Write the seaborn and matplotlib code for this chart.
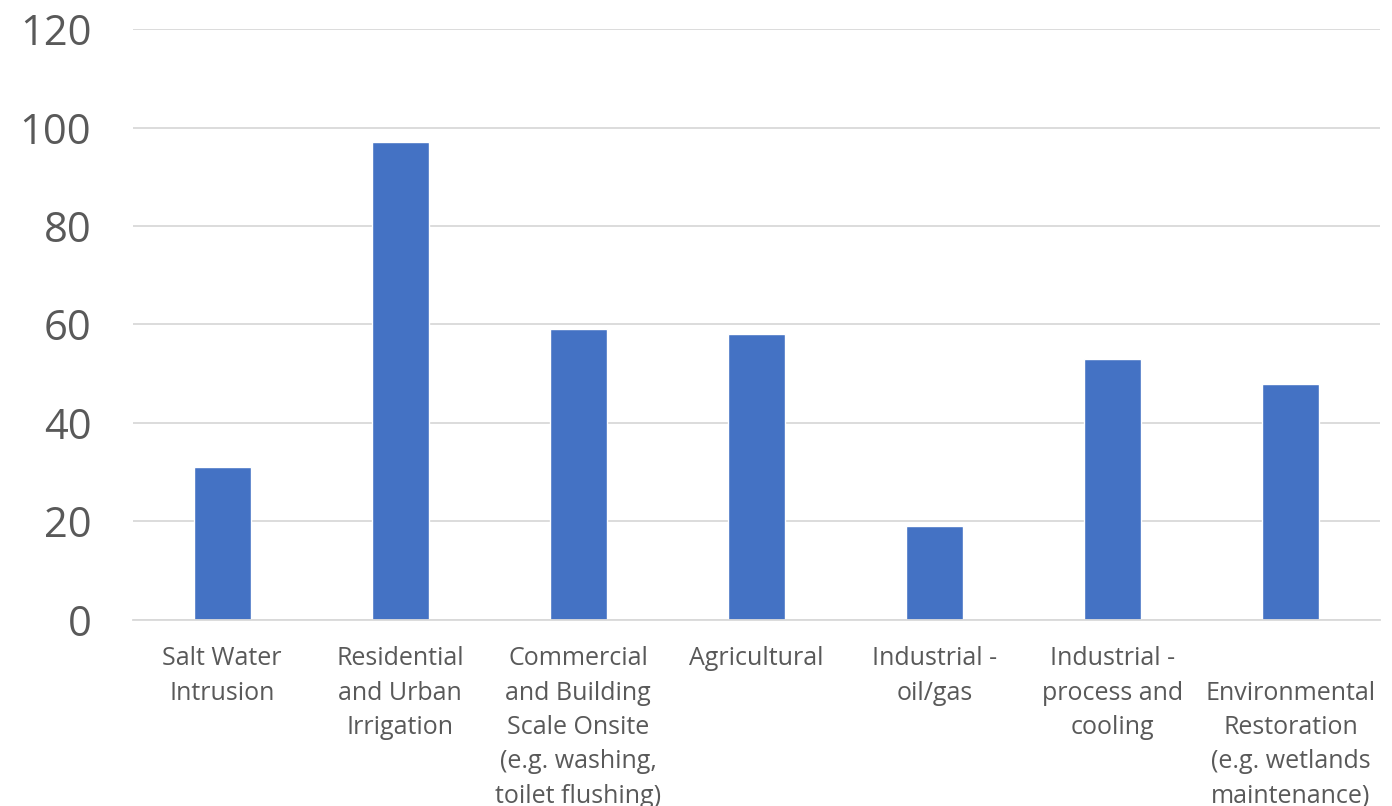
import matplotlib
matplotlib.use("Agg")
import matplotlib.pyplot as plt
import seaborn as sns
import pandas as pd

categories = [
    "Salt Water\nIntrusion",
    "Residential\nand Urban\nIrrigation",
    "Commercial\nand Building\nScale Onsite\n(e.g. washing,\ntoilet flushing)",
    "Agricultural",
    "Industrial -\noil/gas",
    "Industrial -\nprocess and\ncooling",
    "\nEnvironmental\nRestoration\n(e.g. wetlands\nmaintenance)",
]
values = [31, 97, 59, 58, 19, 53, 48]
y_ticks = [0, 20, 40, 60, 80, 100, 120]

sns.set_theme(style="white")
plt.rcParams["font.family"] = ["Open Sans", "DejaVu Sans"]

df = pd.DataFrame({"category": categories, "value": values})

fig = plt.figure(figsize=(13.92, 8.06), dpi=100)
ax = fig.add_axes([0.0955, 0.2308, 0.8959, 0.7332])

sns.barplot(data=df, x="category", y="value", color="#4472C4",
            saturation=1, width=0.32, ax=ax)

ax.set_xlim(-0.5, len(categories) - 0.5)
ax.set_ylim(0, 120)
ax.set_yticks(y_ticks)
ax.yaxis.grid(True, color="#D9D9D9", linewidth=1.3)
ax.set_axisbelow(True)
for s in ["top", "right", "left"]:
    ax.spines[s].set_visible(False)
ax.spines["bottom"].set_color("#D9D9D9")
ax.spines["bottom"].set_linewidth(1.3)

ax.tick_params(axis="y", length=0, pad=30, labelsize=30, labelcolor="#595959")
ax.tick_params(axis="x", length=0, pad=19, labelsize=18, labelcolor="#595959")
for lbl in ax.get_xticklabels():
    lbl.set_linespacing(1.49)
    lbl.set_multialignment("center")
ax.set_xlabel("")
ax.set_ylabel("")

fig.savefig("out.png", dpi=100)
